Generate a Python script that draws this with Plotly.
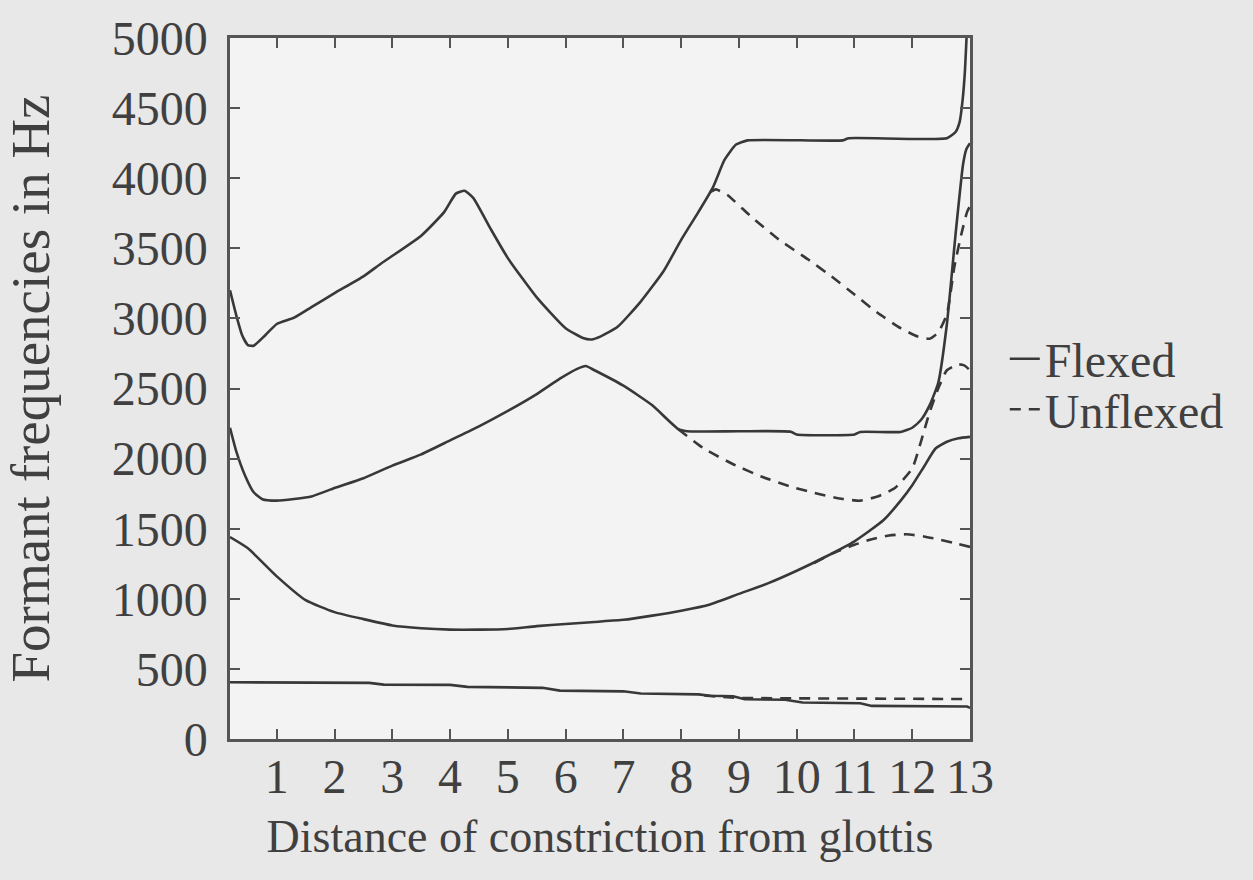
import plotly.graph_objects as go

# ---------------- data ----------------
# Flexed (solid) formants
f1_flex_x = [0.19, 1.0, 2.0, 2.6, 2.85, 3.5, 4.0, 4.3, 5.0, 5.6, 5.9, 6.5, 7.0, 7.3, 8.0, 8.3,
             8.5, 8.9, 9.1, 9.8, 10.1, 10.6, 11.1, 11.3, 12.0, 12.95, 13.0]
f1_flex_y = [405, 405, 402, 400, 388, 387, 386, 372, 368, 365, 345, 343, 340, 325, 323, 318,
             308, 305, 283, 280, 260, 257, 255, 236, 235, 232, 222]

f2_flex_x = [0.19, 0.5, 1.0, 1.5, 2.0, 2.5, 3.0, 3.5, 4.0, 4.5, 5.0, 5.5, 6.0, 6.5, 7.0, 7.5,
             8.0, 8.5, 9.0, 9.5, 10.0, 10.5, 11.0, 11.5, 11.8, 12.0, 12.2, 12.4, 12.6, 12.8, 13.0]
f2_flex_y = [1440, 1360, 1160, 990, 905, 855, 810, 790, 780, 780, 785, 805, 820, 835, 850, 880,
             915, 960, 1035, 1110, 1200, 1300, 1410, 1560, 1700, 1810, 1940, 2070, 2120, 2145, 2155]

f3_flex_x = [0.19, 0.3, 0.45, 0.6, 0.75, 1.0, 1.3, 1.6, 2.0, 2.5, 3.0, 3.5, 4.0, 4.5, 5.0, 5.5,
             5.9, 6.2, 6.35, 6.5, 7.0, 7.5, 7.95, 8.1, 9.0, 9.9, 10.0, 11.0, 11.1, 11.8, 12.0,
             12.15, 12.3, 12.45, 12.6, 12.75, 12.88, 12.94, 13.0]
f3_flex_y = [2220, 2050, 1880, 1760, 1710, 1700, 1712, 1730, 1790, 1860, 1950, 2030, 2130, 2230,
             2340, 2460, 2570, 2640, 2660, 2630, 2520, 2380, 2210, 2195, 2195, 2192, 2172, 2172,
             2190, 2190, 2220, 2275, 2380, 2540, 2960, 3600, 4100, 4210, 4250]

f4_flex_x = [0.19, 0.3, 0.4, 0.5, 0.6, 0.8, 1.0, 1.3, 1.6, 2.0, 2.5, 2.8, 3.5, 3.9, 4.1, 4.25,
             4.4, 4.7, 5.0, 5.5, 6.0, 6.3, 6.45, 6.6, 6.9, 7.3, 7.7, 8.0, 8.3, 8.55, 8.75, 8.95,
             9.15, 10.8, 10.9, 12.6, 12.75, 12.82, 12.87, 12.91, 12.94]
f4_flex_y = [3200, 3020, 2880, 2810, 2805, 2880, 2960, 3005, 3080, 3180, 3300, 3390, 3590, 3760,
             3890, 3910, 3860, 3640, 3430, 3150, 2930, 2860, 2850, 2870, 2940, 3120, 3340, 3560,
             3760, 3935, 4130, 4240, 4270, 4270, 4285, 4285, 4330, 4400, 4550, 4750, 5000]

# Unflexed (dashed) formants, where they depart from the flexed ones
f1_unfl_x = [8.4, 9.0, 10.0, 11.0, 12.0, 13.0]
f1_unfl_y = [310, 292, 290, 288, 286, 285]

f2_unfl_x = [10.3, 10.6, 11.0, 11.3, 11.6, 11.9, 12.2, 12.5, 12.8, 13.0]
f2_unfl_y = [1255, 1320, 1385, 1425, 1452, 1460, 1445, 1420, 1390, 1370]

f3_unfl_x = [7.95, 8.4, 8.9, 9.4, 9.9, 10.4, 10.8, 11.1, 11.4, 11.7, 12.0, 12.15, 12.3, 12.45,
             12.6, 12.8, 12.9, 13.0]
f3_unfl_y = [2210, 2070, 1960, 1870, 1800, 1745, 1712, 1700, 1730, 1790, 1930, 2120, 2330, 2500,
             2630, 2672, 2665, 2630]

f4_unfl_x = [8.5, 8.6, 8.8, 9.2, 9.7, 10.2, 10.6, 11.0, 11.4, 11.8, 12.1, 12.3, 12.45, 12.6,
             12.73, 12.85, 12.95, 13.0]
f4_unfl_y = [3900, 3920, 3880, 3730, 3560, 3420, 3300, 3170, 3040, 2930, 2870, 2855, 2900, 3030,
             3370, 3600, 3760, 3800]

x_ticks = list(range(1, 14))
y_ticks = list(range(0, 5001, 500))

# ---------------- figure ----------------
INK = "#383838"
AXIS = "#555555"
TEXT = "#404040"
FONT = "Liberation Serif"

fig = go.Figure()

flexed = [(f1_flex_x, f1_flex_y, "linear"), (f2_flex_x, f2_flex_y, "spline"),
          (f3_flex_x, f3_flex_y, "spline"), (f4_flex_x, f4_flex_y, "spline")]
unflexed = [(f1_unfl_x, f1_unfl_y, "linear"), (f2_unfl_x, f2_unfl_y, "spline"),
            (f3_unfl_x, f3_unfl_y, "spline"), (f4_unfl_x, f4_unfl_y, "spline")]

for i, (xs, ys, shp) in enumerate(flexed):
    fig.add_trace(go.Scatter(x=xs, y=ys, mode="lines", name="Flexed", legendgroup="flex",
                             legend="legend", showlegend=(i == 0),
                             line=dict(color=INK, width=2.6, shape=shp, smoothing=0.5)))
for i, (xs, ys, shp) in enumerate(unflexed):
    fig.add_trace(go.Scatter(x=xs, y=ys, mode="lines", name="Unflexed", legendgroup="unfl",
                             legend="legend2", showlegend=(i == 0),
                             line=dict(color=INK, width=2.6, dash="11px,8px", shape=shp,
                                       smoothing=0.5)))

axis_common = dict(showline=True, linewidth=2.5, linecolor=AXIS, mirror="ticks",
                   ticks="inside", ticklen=10, tickwidth=2, tickcolor=AXIS,
                   showgrid=False, zeroline=False,
                   tickfont=dict(family=FONT, size=48, color=TEXT))

fig.update_xaxes(range=[0.19, 13], tickvals=x_ticks, ticklabelstandoff=-6,
                 title=dict(text="Distance of constriction from glottis",
                            font=dict(family=FONT, size=46, color=TEXT), standoff=18),
                 **axis_common)
fig.update_yaxes(range=[0, 5000], tickvals=y_ticks, ticklabelstandoff=10,
                 title=dict(text="Formant frequencies in Hz",
                            font=dict(family=FONT, size=55, color=TEXT), standoff=56),
                 **axis_common)

legend_common = dict(xanchor="left", yanchor="middle", bgcolor="rgba(0,0,0,0)",
                     borderwidth=0, font=dict(family=FONT, size=48, color=TEXT))

fig.update_layout(
    width=1253, height=880,
    margin=dict(l=230, r=283, t=33, b=141),
    paper_bgcolor="#e8e8e8",
    plot_bgcolor="#f3f3f3",
    showlegend=True,
    legend=dict(x=1.047, y=0.542, **legend_common),
    legend2=dict(x=1.047, y=0.47, **legend_common),
)

fig.write_html("out.html")
